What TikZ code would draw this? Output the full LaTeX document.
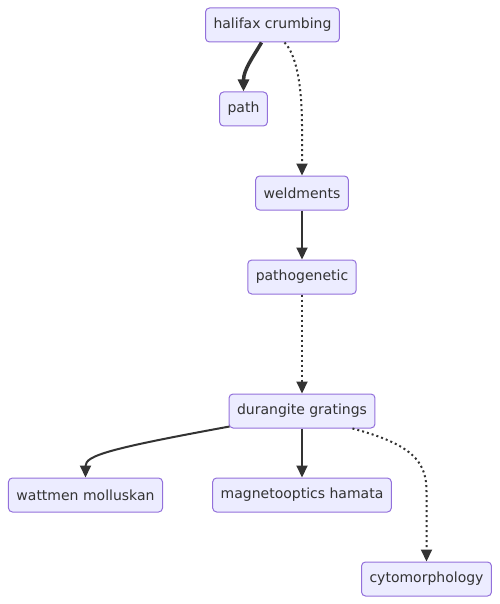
\documentclass[tikz,border=0pt]{standalone}
\usepackage{fontspec}
\setmainfont{DejaVu Sans}
\usetikzlibrary{arrows.meta}
\definecolor{nodefill}{HTML}{ECECFF}
\definecolor{nodeborder}{HTML}{9370DB}
\definecolor{edgecol}{HTML}{333333}
\tikzset{
  box/.style={draw=nodeborder, fill=nodefill, line width=1pt, rounded corners=4pt,
    minimum height=34pt, inner xsep=8pt, inner ysep=0pt, text=edgecol,
    font=\fontsize{14pt}{16pt}\selectfont},
  edge/.style={draw=edgecol, line width=2pt, -{Triangle[length=12pt,width=11pt]}},
  thickedge/.style={edge, line width=3.5pt},
  dotedge/.style={edge, dash pattern=on 2pt off 3pt}
}
\begin{document}
\begin{tikzpicture}[x=1pt,y=-1pt]
\useasboundingbox (0,0) rectangle (499,604);
\node[box] (h) at (272.5,25) {halifax crumbing};
\node[box] (p) at (243.5,109) {path};
\node[box] (w) at (302,193) {weldments};
\node[box] (pg) at (302,277) {pathogenetic};
\node[box] (d) at (302,411) {durangite gratings};
\node[box] (wm) at (85.5,495) {wattmen molluskan};
\node[box] (m) at (302,495) {magnetooptics hamata};
\node[box] (c) at (426.5,579) {cytomorphology};

\draw[thickedge] ([xshift=-11pt]h.south) .. controls +(-8,14) and +(0,-22) .. (p.north);
\draw[dotedge] ([xshift=12pt]h.south) .. controls +(14,14) and +(0,-30) .. ([yshift=50pt]w.north) -- (w.north);
\draw[edge] (w.south) -- (pg.north);
\draw[dotedge] (pg.south) -- (d.north);
\draw[edge] ([xshift=1pt,yshift=2pt]d.south west) .. controls +(-120,22) and +(0,-22) .. (wm.north);
\draw[edge] (d.south) -- (m.north);
\draw[dotedge] ([xshift=-23pt]d.south east) .. controls +(60,16) and +(0,-30) .. ([yshift=70pt]c.north) -- (c.north);
\end{tikzpicture}
\end{document}
